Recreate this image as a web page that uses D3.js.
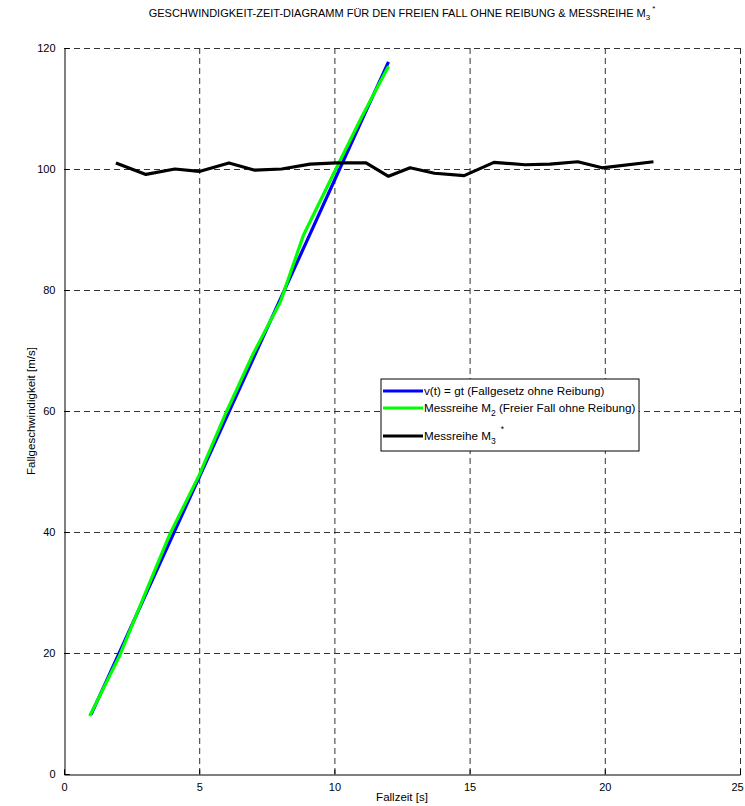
<!DOCTYPE html>
<html>
<head>
<meta charset="utf-8">
<script src="https://cdn.jsdelivr.net/npm/d3@7"></script>
<style>
body { margin: 0; background: #fff; }
text { font-family: "Liberation Sans", Arial, sans-serif; }
</style>
</head>
<body>
<svg width="745" height="806"></svg>
<script>
// Fallgesetz v = g t
let tTheorie = [1, 2, 3, 4, 5, 6, 7, 8, 9, 10, 11, 12];
let vTheorie = [9.81, 19.62, 29.43, 39.24, 49.05, 58.86, 68.67, 78.48, 88.29, 98.1, 107.91, 117.72];

// Messreihe M2
let tM2 = [0.95, 2.05, 3, 3.9, 5, 6, 7, 8, 8.85, 10, 11, 12];
let vM2 = [9.6, 19.5, 29.8, 39.5, 49.4, 59.8, 69.5, 78, 89, 99.5, 108.5, 117];

// Messreihe M3*
let tM3 = [1.92, 3.03, 4.1, 5.0, 6.1, 7.06, 8.05, 9.1, 10.08, 11.17, 12.0, 12.8, 13.7, 14.8, 15.9, 17.05, 17.97, 19.0, 19.9, 21.8];
let vM3 = [101, 99.1, 100, 99.6, 101, 99.8, 100, 100.8, 101, 101, 98.8, 100.2, 99.3, 98.9, 101.1, 100.7, 100.8, 101.2, 100.2, 101.2];

let xTicks = [0, 5, 10, 15, 20, 25];
let yTicks = [0, 20, 40, 60, 80, 100, 120];

var svg = d3.select("svg");
let pLeft = 64, pRight = 740, pTop = 48, pBottom = 774;

let x = d3.scaleLinear().domain([0, 25]).range([pLeft, pRight]);
let y = d3.scaleLinear().domain([0, 120]).range([pBottom, pTop]);

// grid
let grid = svg.append("g").attr("stroke", "#333").attr("stroke-dasharray", "6,4").attr("stroke-width", 1);
grid.selectAll(".gx").data(xTicks.slice(1)).enter().append("line")
    .attr("x1", d => x(d) + 0.5).attr("x2", d => x(d) + 0.5)
    .attr("y1", pTop).attr("y2", pBottom);
grid.selectAll(".gy").data(yTicks.slice(1)).enter().append("line")
    .attr("y1", d => y(d) + 0.5).attr("y2", d => y(d) + 0.5)
    .attr("x1", pLeft).attr("x2", pRight);

// axes
let xAxis = d3.axisBottom(x).tickValues(xTicks).tickSize(-5).tickPadding(9).tickFormat(d3.format("d"));
let yAxis = d3.axisLeft(y).tickValues(yTicks).tickSize(-5).tickPadding(9).tickFormat(d3.format("d"));

let gx = svg.append("g").attr("transform", `translate(0,${pBottom + 0.5})`).call(xAxis);
let gy = svg.append("g").attr("transform", `translate(${pLeft + 0.5},0)`).call(yAxis);
[gx, gy].forEach(g => {
    g.select(".domain").attr("stroke", "#000");
    g.selectAll(".tick line").attr("stroke", "#000");
    g.selectAll(".tick text").attr("fill", "#000").style("font-size", "11px")
        .style("font-family", "'Liberation Sans', Arial, sans-serif");
});
// keep the last x label inside the page
gx.selectAll(".tick text").filter(d => d === 25).attr("dx", -3);

// lines
let line = d3.line().x(d => x(d[0])).y(d => y(d[1]));
let series = [
    { t: tTheorie, v: vTheorie, color: "#0000ff" },
    { t: tM2, v: vM2, color: "#00ff00" },
    { t: tM3, v: vM3, color: "#000000" }
];
series.forEach(s => {
    svg.append("path")
        .datum(s.t.map((t, i) => [t, s.v[i]]))
        .attr("d", line)
        .attr("fill", "none")
        .attr("stroke", s.color)
        .attr("stroke-width", 3.2)
        .attr("stroke-linejoin", "round");
});

// title
let title = svg.append("text")
    .attr("x", 402).attr("y", 17)
    .attr("text-anchor", "middle")
    .style("font-size", "11px");
title.append("tspan").text("GESCHWINDIGKEIT-ZEIT-DIAGRAMM FÜR DEN FREIEN FALL OHNE REIBUNG & MESSREIHE M");
title.append("tspan").attr("dy", 3).style("font-size", "8px").text("3");
title.append("tspan").attr("dy", -9).attr("dx", 2).style("font-size", "8px").text("*");

// axis labels
svg.append("text").attr("x", x(12.5)).attr("y", 801).attr("text-anchor", "middle")
    .style("font-size", "11.5px").text("Fallzeit [s]");
svg.append("text").attr("transform", `translate(35,${y(60)}) rotate(-90)`)
    .attr("text-anchor", "middle").style("font-size", "11.5px").text("Fallgeschwindigkeit [m/s]");

// legend
let lg = svg.append("g").attr("transform", "translate(381,379)");
lg.append("rect").attr("width", 258).attr("height", 72)
    .attr("fill", "#fff").attr("stroke", "#000").attr("stroke-width", 1);
let rows = [
    { color: "#0000ff", y: 12, parts: [["v(t) = gt (Fallgesetz ohne Reibung)"]] },
    { color: "#00ff00", y: 29, parts: [["Messreihe M"], ["2", "sub"], [" (Freier Fall ohne Reibung)", "back"]] },
    { color: "#000000", y: 57, parts: [["Messreihe M"], ["3", "sub"], ["*", "sup"]] }
];
rows.forEach(r => {
    lg.append("line").attr("x1", 2).attr("x2", 42).attr("y1", r.y).attr("y2", r.y)
        .attr("stroke", r.color).attr("stroke-width", 3.2);
    let t = lg.append("text").attr("x", 43).attr("y", r.y + 4).style("font-size", "11.7px");
    r.parts.forEach(p => {
        let ts = t.append("tspan").text(p[0]);
        if (p[1] === "sub") ts.attr("dy", 4).style("font-size", "8.5px");
        if (p[1] === "back") ts.attr("dy", -4);
        if (p[1] === "sup") ts.attr("dy", -12).attr("dx", 5).style("font-size", "8.5px");
    });
});
</script>
</body>
</html>
